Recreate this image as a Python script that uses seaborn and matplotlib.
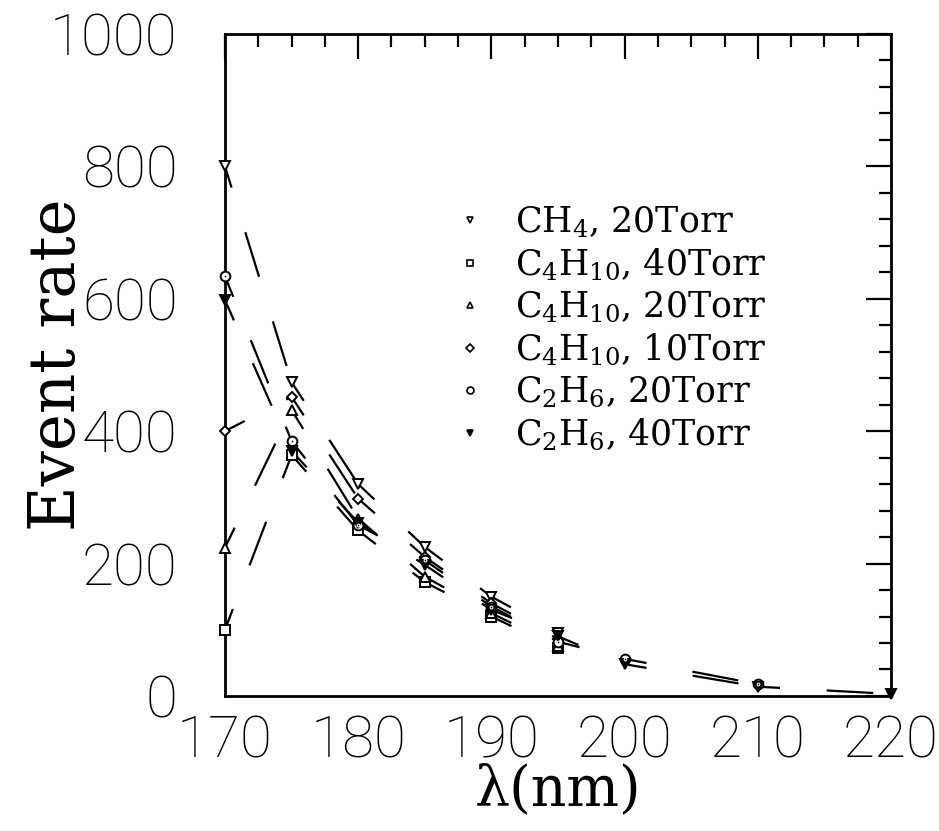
import matplotlib
matplotlib.use("Agg")
import matplotlib.pyplot as plt
import seaborn as sns
from matplotlib.lines import Line2D
from matplotlib.ticker import MultipleLocator, AutoMinorLocator

# wavelength grids (nm)
wl_short = [170, 175, 180, 185, 190, 195]
wl_c2h6_20 = [170, 175, 180, 185, 190, 195, 200, 210]
wl_c2h6_40 = [170, 175, 180, 185, 190, 195, 200, 210, 220]

# event rates
ch4_20 = [800, 474, 320, 225, 150, 95]
c4h10_40 = [100, 364, 250, 172, 120, 72]
c4h10_20 = [224, 432, 268, 180, 125, 76]
c4h10_10 = [400, 452, 298, 210, 140, 86]
c2h6_20 = [634, 385, 258, 205, 135, 82, 56, 18]
c2h6_40 = [598, 370, 262, 198, 130, 90, 48, 14, 3]

labels = [r"CH$_4$, 20Torr",
          r"C$_4$H$_{10}$, 40Torr",
          r"C$_4$H$_{10}$, 20Torr",
          r"C$_4$H$_{10}$, 10Torr",
          r"C$_2$H$_6$, 20Torr",
          r"C$_2$H$_6$, 40Torr"]

series = [(wl_short, ch4_20, "v", "white"),
          (wl_short, c4h10_40, "s", "white"),
          (wl_short, c4h10_20, "^", "white"),
          (wl_short, c4h10_10, "D", "white"),
          (wl_c2h6_20, c2h6_20, "o", "white"),
          (wl_c2h6_40, c2h6_40, "v", "black")]

sns.set_theme(style="white")
plt.rcParams["font.family"] = ["DejaVu Serif"]
plt.rcParams["mathtext.fontset"] = "dejavuserif"
plt.rcParams["text.color"] = "black"
plt.rcParams["axes.labelcolor"] = "black"
plt.rcParams["xtick.color"] = "black"
plt.rcParams["ytick.color"] = "black"

fig = plt.figure(figsize=(9.39, 8.31), dpi=100)
ax = fig.add_axes([0.2396, 0.1625, 0.7093, 0.7966])

dash = (11, (21, 21))
for xs, ys, m, fc in series:
    # each segment restarts its dash pattern, like the original plotter
    for i in range(len(xs) - 1):
        sns.lineplot(x=xs[i:i + 2], y=ys[i:i + 2], ax=ax, color="black",
                     lw=1.6, linestyle=dash, clip_on=False)
    ms = 7 if m != "D" else 5.5
    sns.lineplot(x=xs, y=ys, ax=ax, color="black", marker=m, linestyle="",
                 markersize=ms, mfc=fc, mec="black", mew=1.4, clip_on=False,
                 zorder=5)
    if m == "o":
        sns.lineplot(x=xs, y=ys, ax=ax, color="black", marker="o",
                     linestyle="", markersize=2, clip_on=False, zorder=6)

ax.set_xlim(170, 220)
ax.set_ylim(0, 1000)
ax.xaxis.set_major_locator(MultipleLocator(10))
ax.xaxis.set_minor_locator(AutoMinorLocator(4))
ax.yaxis.set_major_locator(MultipleLocator(200))
ax.yaxis.set_minor_locator(AutoMinorLocator(5))

ax.tick_params(which="both", direction="in", top=True, right=True,
               color="black", width=1.6)
ax.tick_params(which="major", length=18)
ax.tick_params(which="minor", length=9)
ax.tick_params(axis="y", which="major", pad=34)
ax.tick_params(axis="x", which="major", pad=13)
for lab in ax.get_xticklabels() + ax.get_yticklabels():
    lab.set_fontfamily(["Roboto", "DejaVu Sans"])
    lab.set_fontweight("light")
    lab.set_fontsize(42)
for sp in ax.spines.values():
    sp.set_linewidth(2)
    sp.set_color("black")

ax.set_xlabel("λ(nm)", fontsize=40)
ax.set_ylabel("Event rate", fontsize=45)
ax.xaxis.set_label_coords(0.5, -0.1)
ax.yaxis.set_label_coords(-0.205, 0.5)

handles = [Line2D([], [], marker=m, linestyle="None", color="black",
                  mfc=fc, mec="black", mew=1.2,
                  markersize=(5 if m != "D" else 4))
           for _, _, m, fc in series]
ax.legend(handles, labels, loc="upper left", bbox_to_anchor=(0.295, 0.79),
          frameon=False, fontsize=25, handlelength=1.0, handletextpad=0.8,
          labelspacing=0.2)

fig.savefig("out.png", dpi=100)
